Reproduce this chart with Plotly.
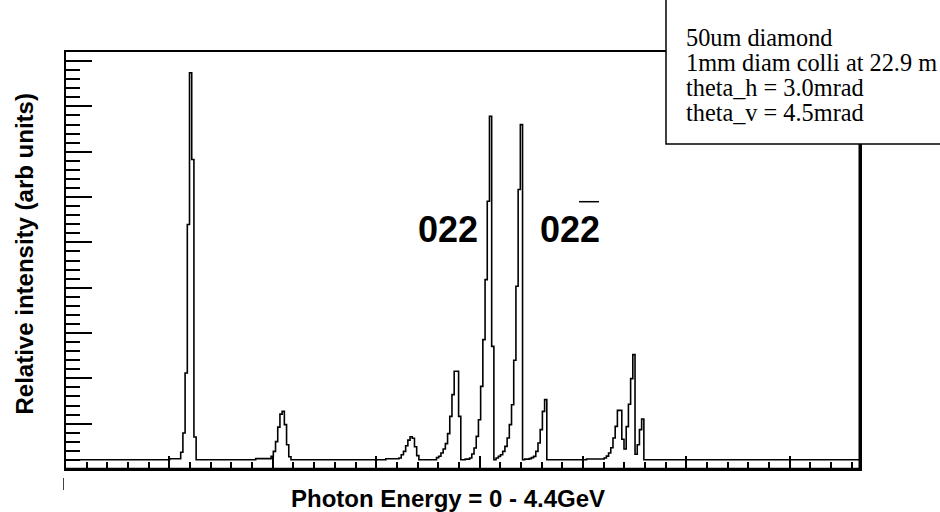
import numpy as np
import plotly.graph_objects as go

# ---------------- data ----------------
E_MIN, E_MAX, N_BINS = 0.0, 4.4, 360          # histogram range (GeV) and number of bins
BASELINE = 205                                 # flat background level (arb units)

# each cluster: first bin index + bin contents (arb units)
peak1_start = 47
peak1_counts = [227, 227, 227, 227, 227, 371, 795, 2119, 5393, 8742, 6828, 706]

peak2_start = 86
peak2_counts = [230, 230, 230, 230, 230, 230, 230, 278, 389, 603, 923, 1210, 1272, 978, 536, 271]

peak3_start = 145
peak3_counts = [225, 225, 225, 225, 225, 225, 243, 316, 389, 514, 636, 713, 680, 492, 294]

peak4_start = 168
peak4_counts = [250, 280, 353, 440, 560, 780, 1161, 1640, 2155, 2155, 1161]

peak022_start = 181
peak022_counts = [217, 217, 243, 330, 464, 720, 1088, 1823, 2854, 4179, 5907, 7784, 2706]

peak022b_start = 195
peak022b_counts = [243, 278, 316, 389, 499, 684, 978, 1419, 2400, 4031, 6166, 7598]

peak5_start = 208
peak5_counts = [217, 217, 230, 250, 278, 389, 574, 868, 1272, 1530]

cluster_start = 236
cluster_counts = [221, 221, 221, 221, 221, 221, 221, 221, 243, 283, 353, 470, 684, 940,
                  1294, 1294, 658, 442, 934, 1430, 1993, 2523, 327, 536, 868, 1104]

clusters = [
    (peak1_start, peak1_counts), (peak2_start, peak2_counts), (peak3_start, peak3_counts),
    (peak4_start, peak4_counts), (peak022_start, peak022_counts),
    (peak022b_start, peak022b_counts), (peak5_start, peak5_counts),
    (cluster_start, cluster_counts),
]

info_lines = ["50um diamond", "1mm diam colli at 22.9 m", "theta_h = 3.0mrad", "theta_v = 4.5mrad"]
x_title = "Photon Energy = 0 - 4.4GeV"
y_title = "Relative intensity (arb units)"
label_left = "022"
label_right = "022"

# ---------------- build histogram ----------------
counts = [BASELINE] * N_BINS
for start, vals in clusters:
    for i, v in enumerate(vals):
        counts[start + i] = v
edges = np.linspace(E_MIN, E_MAX, N_BINS + 1)
ys = counts + [counts[-1]]

# ---------------- geometry ----------------
W, H = 940, 512
ML, MR, MT, MB = 66, 80, 52, 43
PW, PH = W - ML - MR, H - MT - MB


def px(xp):
    return (xp - ML) / PW


def py(yp):
    return (H - MB - yp) / PH


fig = go.Figure()
fig.add_trace(go.Scatter(x=edges, y=ys, mode="lines", line=dict(shape="hv", color="black", width=1.6),
                         hoverinfo="skip", showlegend=False))

axis_common = dict(showline=True, linecolor="black", linewidth=1.5, mirror=True, ticks="inside",
                   tickcolor="black", tickwidth=1.5, showticklabels=False, showgrid=False,
                   zeroline=False, fixedrange=True)

fig.update_layout(
    width=W, height=H,
    margin=dict(l=ML, r=MR, t=MT, b=MB),
    paper_bgcolor="white", plot_bgcolor="white",
    xaxis=dict(range=[E_MIN, E_MAX], tick0=0, dtick=0.573, ticklen=13,
               minor=dict(ticks="inside", dtick=0.1146, ticklen=7, tickcolor="black", tickwidth=1.5),
               **axis_common),
    yaxis=dict(range=[0, 9200], tick0=0, dtick=1000, ticklen=26,
               minor=dict(ticks="inside", dtick=200, ticklen=14, tickcolor="black", tickwidth=1.5),
               **axis_common),
)

shapes = [
    # thick right/bottom frame edges
    dict(type="line", xref="paper", yref="paper", x0=1, x1=1, y0=0, y1=1, line=dict(color="black", width=3)),
    dict(type="line", xref="paper", yref="paper", x0=0, x1=1, y0=0, y1=0, line=dict(color="black", width=2.5)),
    # info box
    dict(type="rect", xref="paper", yref="paper", x0=px(666), x1=px(960), y0=py(144), y1=py(-10),
         line=dict(color="black", width=1.5), fillcolor="white", layer="above"),
    # overline on the last digit of the right label
    dict(type="line", xref="paper", yref="paper", x0=px(579), x1=px(599), y0=py(201.7), y1=py(201.7),
         line=dict(color="black", width=1.5)),
    # small clipped mark below the axis
    dict(type="line", xref="paper", yref="paper", x0=px(63.5), x1=px(63.5), y0=py(478), y1=py(490),
         line=dict(color="#444", width=1)),
]
fig.update_layout(shapes=shapes)

ann = []
for txt, yc in zip(info_lines, [37, 62.7, 87.7, 112.7]):
    ann.append(dict(text=txt, xref="paper", yref="paper", x=px(684), y=py(yc), xanchor="left",
                    yanchor="middle", showarrow=False,
                    font=dict(family="Liberation Serif, Times New Roman, serif", size=24.3, color="black")))
bold = "Liberation Sans, Arial, Helvetica, sans-serif"
ann.append(dict(text=f"<b>{label_left}</b>", xref="paper", yref="paper", x=px(447.5), y=py(229),
                xanchor="center", yanchor="middle", showarrow=False, font=dict(family=bold, size=36, color="black")))
ann.append(dict(text=f"<b>{label_right}</b>", xref="paper", yref="paper", x=px(569.5), y=py(229),
                xanchor="center", yanchor="middle", showarrow=False, font=dict(family=bold, size=36, color="black")))
ann.append(dict(text=f"<b>{x_title}</b>", xref="paper", yref="paper", x=px(447.5), y=py(498.4),
                xanchor="center", yanchor="middle", showarrow=False, font=dict(family=bold, size=24, color="black")))
ann.append(dict(text=f"<b>{y_title}</b>", xref="paper", yref="paper", x=px(24), y=py(254.5), textangle=-90,
                xanchor="center", yanchor="middle", showarrow=False, font=dict(family=bold, size=24, color="black")))
fig.update_layout(annotations=ann)

fig.write_html("out.html")
